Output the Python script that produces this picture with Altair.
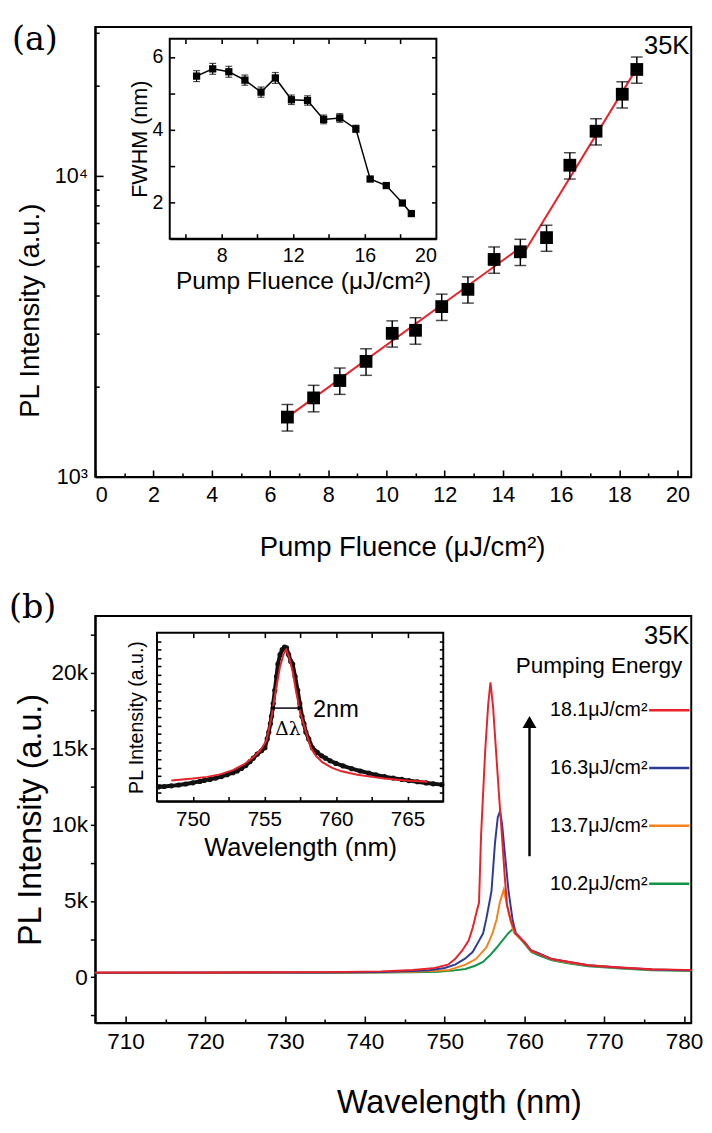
import altair as alt
import pandas as pd

FONT = "Liberation Sans"
SERIF = "DejaVu Serif"

# ---------------- Panel (a): PL intensity vs pump fluence ----------------
fluence = [6.6, 7.5, 8.4, 9.3, 10.2, 11.0, 11.9, 12.8, 13.7, 14.6, 15.5, 16.3, 17.2, 18.1, 18.6]
pl_intensity = [1580, 1830, 2090, 2420, 3000, 3070, 3680, 4200, 5280, 5600, 6240, 10860, 14090, 18700, 22600]
pl_error = [160, 185, 210, 245, 300, 310, 370, 420, 530, 560, 620, 1090, 1410, 1870, 2260]
fit_low_x = [6.6, 14.6]
fit_low_y = [1580, 5780]
fit_high_x = [14.6, 18.55]
fit_high_y = [5310, 22400]

# inset (a): FWHM vs pump fluence
fwhm = [5.47, 5.67, 5.59, 5.36, 5.03, 5.42, 4.82, 4.80, 4.28, 4.32, 4.02, 2.64, 2.46, 1.98, 1.69]
fwhm_error = [0.15, 0.15, 0.15, 0.14, 0.14, 0.15, 0.13, 0.13, 0.12, 0.12, 0.10, 0.05, 0.04, 0.04, 0.04]
inset_a_xdomain = [5.1, 20]
inset_a_ydomain = [1.0, 6.5]

# ---------------- Panel (b): spectra ----------------
red_wl = [705.5, 720, 735, 742, 746, 748.5, 750.4, 751.3, 752.2, 753.0, 753.5, 754.0, 754.3, 754.56,
          755.08, 755.45, 755.73, 756.05, 756.42, 756.8, 757.16, 757.5, 757.81, 758.3, 758.9, 760.0,
          760.84, 761.7, 763.44, 765.6, 768, 772.1, 776, 780, 784.5]
red_int = [300, 310, 330, 380, 470, 580, 820, 1190, 1750, 2400, 3230, 4300, 4900, 9360,
           14930, 17900, 19350, 17800, 14930, 12000, 9360, 6800, 4720, 3700, 2860, 2300,
           1750, 1550, 1190, 1000, 780, 630, 520, 480, 450]

blue_wl = [705.5, 720, 735, 742, 746, 748, 750, 751.3, 752.5, 753.5, 754.2, 754.8, 755.2, 755.6,
           755.86, 756.3, 756.65, 756.94, 757.2, 757.45, 758.0, 758.5, 758.9, 760.0, 760.84, 761.7,
           763.44, 765.6, 768, 772.1, 776, 780, 784.5]
blue_int = [290, 300, 310, 340, 400, 450, 600, 820, 1200, 1650, 2300, 2860, 3790, 4900,
            5640, 8800, 10500, 10900, 10000, 8600, 5640, 3790, 2900, 2300, 1750, 1600,
            1190, 1000, 780, 620, 500, 460, 440]

orange_wl = [705.5, 720, 735, 742, 746, 748, 750.4, 752.6, 753.9, 755.2, 755.6, 756.0, 756.5, 756.9,
             757.2, 757.4, 757.7, 758.2, 758.7, 760.0, 760.84, 761.7, 763.44, 765.6, 768, 772.1,
             776, 780, 784.5]
orange_int = [280, 290, 300, 320, 360, 400, 450, 820, 1190, 1930, 2400, 2900, 3790, 4900,
              5400, 5740, 5000, 3790, 2900, 2250, 1700, 1550, 1150, 950, 760, 600,
              490, 450, 430]

green_wl = [705.5, 720, 735, 742, 746, 749.2, 751, 752.6, 753.8, 754.8, 755.7, 756.5, 757.3, 758.0,
            758.5, 759.0, 760.0, 760.84, 761.7, 763.44, 765.6, 768, 772.1, 776, 780, 784.5]
green_int = [270, 280, 290, 300, 320, 350, 430, 540, 750, 1000, 1450, 1930, 2450, 2900,
             3150, 2800, 2200, 1650, 1450, 1100, 900, 720, 560, 460, 420, 400]

legend_labels = ["18.1\u03bcJ/cm\u00b2", "16.3\u03bcJ/cm\u00b2", "13.7\u03bcJ/cm\u00b2", "10.2\u03bcJ/cm\u00b2"]
legend_colors = ["#e8222a", "#2a3b98", "#f5821f", "#12934a"]

# inset (b): measured spectrum (dots) and Lorentzian fit (red), normalised units
dots_wl = [747.6, 748.0, 748.5, 749.0, 749.5, 750.0, 750.5, 750.8, 751.2, 751.6, 752.0, 752.4, 752.8,
           753.1, 753.4, 753.7, 754.0, 754.23, 754.5, 754.8, 755.04, 755.2, 755.31, 755.42, 755.5,
           755.62, 755.73, 755.85, 755.95, 756.1, 756.25, 756.41, 756.55, 756.7, 756.85, 756.98,
           757.15, 757.33, 757.48, 757.63, 757.77, 757.9, 758.1, 758.36, 758.7, 759.0, 759.28, 759.6,
           760.0, 760.5, 761.1, 761.7, 762.3, 762.8, 763.4, 764.0, 764.6, 765.1, 765.7, 766.3,
           766.8, 767.4]
dots_int = [0.085, 0.088, 0.092, 0.097, 0.103, 0.110, 0.118, 0.124, 0.130, 0.138, 0.147, 0.158, 0.170,
            0.180, 0.195, 0.212, 0.235, 0.256, 0.280, 0.300, 0.318, 0.370, 0.411, 0.460, 0.504,
            0.580, 0.659, 0.740, 0.814, 0.870, 0.900, 0.915, 0.910, 0.870, 0.830, 0.814,
            0.740, 0.659, 0.580, 0.504, 0.460, 0.411, 0.370, 0.318, 0.290, 0.270, 0.256, 0.240,
            0.225, 0.210, 0.194, 0.180, 0.167, 0.157, 0.147, 0.138, 0.130, 0.123, 0.116, 0.109,
            0.104, 0.099]
fit_wl = [748.5, 750.0, 751.0, 751.9, 752.8, 753.6, 754.2, 754.7, 755.15, 755.5, 755.8, 756.1, 756.35,
          756.53, 756.75, 757.0, 757.2, 757.5, 757.8, 758.25, 758.6, 759.05, 759.7, 760.4, 761.5,
          762.5, 763.4, 764.5, 765.5, 766.4]
fit_int = [0.124, 0.135, 0.145, 0.160, 0.185, 0.220, 0.260, 0.300, 0.360, 0.500, 0.659, 0.800, 0.875,
           0.899, 0.850, 0.760, 0.659, 0.530, 0.442, 0.318, 0.270, 0.232, 0.200, 0.178, 0.158,
           0.145, 0.135, 0.127, 0.120, 0.116]
fwhm_arrow_wl = [755.56, 757.49]
fwhm_arrow_level = 0.553
inset_b_xdomain = [747.5, 767.5]
inset_b_ydomain = [0.0, 1.0]

# tick positions
a_major_x = list(range(0, 21, 2))
a_minor_x = list(range(1, 21, 2))
a_major_y = [1000, 10000]
a_minor_y = [2000, 3000, 4000, 5000, 6000, 7000, 8000, 9000, 20000, 30000]
ia_x_ticks = [6, 8, 10, 12, 14, 16, 18]
ia_y_ticks = [2, 3, 4, 5, 6]
b_major_x = list(range(710, 781, 10))
b_minor_x = list(range(715, 781, 10))
ib_x_ticks = [750, 752.5, 755, 757.5, 760, 762.5, 765]
ib_y_ticks = [round(0.05 * k, 2) for k in range(1, 20)]

# ---------------- layout constants ----------------
W = 608
HA = 459
HB = 415
INA_X = [76, 348]
INA_Y = [216, 12]
INB_X = [63, 355]
INB_Y = [189, 17]
A_XDOM = [0, 20.47]
A_YDOM = [1000, 31300]
B_XDOM = [706.2, 780.9]
B_YDOM = [-3000, 23700]


def txt(s, x, y, size, align="left", font=FONT, baseline="middle"):
    return alt.Chart(pd.DataFrame({"t": [s]})).mark_text(
        align=align, baseline=baseline, font=font, fontSize=size, color="black"
    ).encode(text="t:N", x=alt.value(x), y=alt.value(y))


def tick_axis(orient, offset, values, size):
    return alt.Axis(orient=orient, offset=offset, values=values, tickSize=size, labels=False,
                    domain=False, title="", tickColor="black", tickWidth=1.6, zindex=2)


def tick_layer(xdom, ydom, xaxis, yaxis, xrange=None, yrange=None, ylog=False):
    xs = dict(domain=xdom, nice=False, zero=False)
    ys = dict(domain=ydom, nice=False)
    if xrange:
        xs["range"] = xrange
    if yrange:
        ys["range"] = yrange
    if ylog:
        ys["type"] = "log"
    else:
        ys["zero"] = False
    df = pd.DataFrame({"tx": [xdom[0]], "ty": [ydom[0]]})
    return alt.Chart(df).mark_point(opacity=0).encode(
        x=alt.X("tx:Q", scale=alt.Scale(**xs), axis=xaxis),
        y=alt.Y("ty:Q", scale=alt.Scale(**ys), axis=yaxis),
    )


# ======================= Panel (a) =======================
df_a = pd.DataFrame({"f": fluence, "pl": pl_intensity, "err": pl_error})
df_a["lo"] = df_a["pl"] - df_a["err"]
df_a["hi"] = df_a["pl"] + df_a["err"]

xa = alt.X("f:Q", scale=alt.Scale(domain=A_XDOM, nice=False, zero=False),
           axis=alt.Axis(values=list(range(0, 21, 2)), tickSize=0, labelPadding=8, labelFontSize=22,
                         title="Pump Fluence (\u03bcJ/cm\u00b2)", titleFontSize=28,
                         titleX=313, titleY=72, titleBaseline="middle", titleAlign="center"))
ya_axis = alt.Axis(values=[1000, 10000], tickSize=0, labelPadding=8,
                   labelExpr="datum.value == 1000 ? '10\u00b3' : '10\u2074'",
                   labelFontSize=22,
                   title="PL Intensity (a.u.)", titleFontSize=28,
                   titleX=-66, titleY=289, titleBaseline="middle", titleAlign="center")
ya_scale = alt.Scale(type="log", domain=A_YDOM, nice=False)

base_a = alt.Chart(df_a)
fit_a1 = alt.Chart(pd.DataFrame({"f": fit_low_x, "pl": fit_low_y})).mark_line(
    color="#e8222a", strokeWidth=2).encode(x=xa, y=alt.Y("pl:Q", scale=ya_scale, axis=ya_axis))
fit_a2 = alt.Chart(pd.DataFrame({"f": fit_high_x, "pl": fit_high_y})).mark_line(
    color="#e8222a", strokeWidth=2).encode(x="f:Q", y="pl:Q")
err_a = base_a.mark_rule(color="black", strokeWidth=1.5).encode(x="f:Q", y="lo:Q", y2="hi:Q")
cap_lo = base_a.mark_tick(orient="horizontal", size=12, thickness=1.5, color="black").encode(x="f:Q", y="lo:Q")
cap_hi = base_a.mark_tick(orient="horizontal", size=12, thickness=1.5, color="black").encode(x="f:Q", y="hi:Q")
sq_a = base_a.mark_square(size=170, color="black", opacity=1).encode(x="f:Q", y="pl:Q")

main_a = alt.layer(
    fit_a1, fit_a2, err_a, cap_lo, cap_hi, sq_a,
    txt("35K", 606, 20, 26, align="right"),
    txt("(a)", -85, 14, 34, font=SERIF),
)

# inset (a)
df_ia = pd.DataFrame({"f": fluence, "w": fwhm, "e": fwhm_error})
df_ia["lo"] = df_ia["w"] - df_ia["e"]
df_ia["hi"] = df_ia["w"] + df_ia["e"]
frame_ia = pd.DataFrame({"x0": [inset_a_xdomain[0]], "x1": [inset_a_xdomain[1]],
                         "y0": [inset_a_ydomain[0]], "y1": [inset_a_ydomain[1]]})
xia = alt.X("x0:Q", scale=alt.Scale(domain=inset_a_xdomain, range=INA_X, nice=False, zero=False),
            axis=alt.Axis(orient="bottom", offset=-(HA - INA_Y[0]), values=[8, 12, 16, 20],
                          title="Pump Fluence (\u03bcJ/cm\u00b2)", labelFontSize=20, titleFontSize=25,
                          titlePadding=4, tickSize=0, labelPadding=7))
yia = alt.Y("y0:Q", scale=alt.Scale(domain=inset_a_ydomain, range=INA_Y, nice=False, zero=False),
            axis=alt.Axis(orient="left", offset=-INA_X[0], values=[2, 4, 6], format="d",
                          title="FWHM (nm)", labelFontSize=20, titleFontSize=22, tickSize=0, labelPadding=7,
                          titleX=-31, titleBaseline="middle", titleAlign="center"))
rect_ia = alt.Chart(frame_ia).mark_rect(fill="white", stroke="black", strokeWidth=2).encode(
    x=xia, x2="x1:Q", y=yia, y2="y1:Q")
base_ia = alt.Chart(df_ia)
line_ia = base_ia.mark_line(color="black", strokeWidth=1.5).encode(x="f:Q", y="w:Q")
err_ia = base_ia.mark_rule(color="black", strokeWidth=1.2).encode(x="f:Q", y="lo:Q", y2="hi:Q")
caplo_ia = base_ia.mark_tick(orient="horizontal", size=7, thickness=1.2, color="black").encode(x="f:Q", y="lo:Q")
caphi_ia = base_ia.mark_tick(orient="horizontal", size=7, thickness=1.2, color="black").encode(x="f:Q", y="hi:Q")
sq_ia = base_ia.mark_square(size=55, color="black", opacity=1).encode(x="f:Q", y="w:Q")
inset_a = alt.layer(rect_ia, line_ia, err_ia, caplo_ia, caphi_ia, sq_ia)

ticks_a = [
    tick_layer(A_XDOM, A_YDOM, tick_axis("bottom", -7, a_major_x, 7), tick_axis("left", -8, a_major_y, 8), ylog=True),
    tick_layer(A_XDOM, A_YDOM, tick_axis("bottom", -4, a_minor_x, 4), tick_axis("left", -4, a_minor_y, 4), ylog=True),
    tick_layer(inset_a_xdomain, inset_a_ydomain,
               tick_axis("bottom", INA_Y[0] - 5 - HA, ia_x_ticks, 5), tick_axis("left", -(INA_X[0] + 5), ia_y_ticks, 5),
               xrange=INA_X, yrange=INA_Y),
    tick_layer(inset_a_xdomain, inset_a_ydomain,
               tick_axis("top", -(INA_Y[1] + 5), ia_x_ticks, 5), tick_axis("right", INA_X[1] - 5 - W, ia_y_ticks, 5),
               xrange=INA_X, yrange=INA_Y),
]

panel_a = alt.layer(main_a, inset_a, *ticks_a).resolve_scale(x="independent", y="independent").properties(
    width=W, height=HA)

# ======================= Panel (b) =======================
xb = alt.X("wl:Q", scale=alt.Scale(domain=B_XDOM, nice=False, zero=False),
           axis=alt.Axis(values=b_major_x, tickSize=0, labelPadding=8, labelFontSize=23,
                         title="Wavelength (nm)", titleFontSize=33,
                         titleX=371, titleY=81, titleBaseline="middle", titleAlign="center"))
yb = alt.Y("I:Q", scale=alt.Scale(domain=B_YDOM, nice=False, zero=False),
           axis=alt.Axis(values=list(range(-2500, 22501, 2500)),
                         labelExpr="datum.value % 5000 == 0 ? (datum.value == 0 ? '0' : (datum.value / 1000) + 'k') : ''",
                         labelFontSize=23,
                         title="PL Intensity (a.u.)", titleFontSize=33,
                         titleX=-66, titleBaseline="middle", titleAlign="center"))

series = [
    (green_wl, green_int, legend_colors[3]),
    (orange_wl, orange_int, legend_colors[2]),
    (blue_wl, blue_int, legend_colors[1]),
    (red_wl, red_int, legend_colors[0]),
]
spec_layers = []
for i, (wl, inten, col) in enumerate(series):
    enc = {"x": xb, "y": yb} if i == 0 else {"x": "wl:Q", "y": "I:Q"}
    spec_layers.append(alt.Chart(pd.DataFrame({"wl": wl, "I": inten})).mark_line(
        color=col, strokeWidth=2, clip=True).encode(**enc))

leg_layers = [txt("Pumping Energy", 429, 51, 23), txt("35K", 606, 20, 26, align="right"),
              txt("(b)", -88, -8, 34, font=SERIF)]
leg_y = [96, 155, 214, 273]
for lab, col, yy in zip(legend_labels, legend_colors, leg_y):
    leg_layers.append(txt(lab, 464, yy, 20))
    leg_layers.append(alt.Chart(pd.DataFrame({"t": [lab]})).mark_rule(color=col, strokeWidth=2.5).encode(
        x=alt.value(565), x2=alt.value(606), y=alt.value(yy)))
leg_layers.append(alt.Chart(pd.DataFrame({"t": ["arrow"]})).mark_rule(color="black", strokeWidth=2.5).encode(
    x=alt.value(443), y=alt.value(110), y2=alt.value(245)))
leg_layers.append(alt.Chart(pd.DataFrame({"t": ["arrow"]})).mark_point(
    shape="triangle-up", size=200, filled=True, color="black", opacity=1).encode(
    x=alt.value(443), y=alt.value(108)))

main_b = alt.layer(*spec_layers, *leg_layers)

# inset (b)
frame_ib = pd.DataFrame({"x0": [inset_b_xdomain[0]], "x1": [inset_b_xdomain[1]],
                         "y0": [inset_b_ydomain[0]], "y1": [inset_b_ydomain[1]]})
xib = alt.X("x0:Q", scale=alt.Scale(domain=inset_b_xdomain, range=INB_X, nice=False, zero=False),
            axis=alt.Axis(orient="bottom", offset=-(HB - INB_Y[0]), values=[750, 755, 760, 765],
                          title="Wavelength (nm)", labelFontSize=21, titleFontSize=26,
                          titlePadding=5, tickSize=0, labelPadding=8))
yib = alt.Y("y0:Q", scale=alt.Scale(domain=inset_b_ydomain, range=INB_Y, nice=False, zero=False),
            axis=alt.Axis(orient="left", offset=-INB_X[0], values=[0.5],
                          labels=False, title="PL Intensity (a.u.)", titleFontSize=20,
                          titlePadding=10, tickSize=0))
rect_ib = alt.Chart(frame_ib).mark_rect(fill="white", stroke="black", strokeWidth=2).encode(
    x=xib, x2="x1:Q", y=yib, y2="y1:Q")
df_dots = pd.DataFrame({"x0": dots_wl, "y0": dots_int})
dots_line = alt.Chart(df_dots).mark_line(color="#111111", strokeWidth=4).encode(x="x0:Q", y="y0:Q")
dots = alt.Chart(df_dots).mark_circle(size=28, color="#111111", opacity=1).encode(x="x0:Q", y="y0:Q")
fit_b = alt.Chart(pd.DataFrame({"x0": fit_wl, "y0": fit_int})).mark_line(
    color="#e8222a", strokeWidth=2).encode(x="x0:Q", y="y0:Q")
df_arr = pd.DataFrame({"x0": [fwhm_arrow_wl[0]], "x1": [fwhm_arrow_wl[1]], "y0": [fwhm_arrow_level]})
arr_rule = alt.Chart(df_arr).mark_rule(color="black", strokeWidth=1.5).encode(x="x0:Q", x2="x1:Q", y="y0:Q")
df_tips = pd.DataFrame({"x0": fwhm_arrow_wl, "y0": [fwhm_arrow_level] * 2, "s": ["triangle-left", "triangle-right"]})
arr_tips = alt.Chart(df_tips).mark_point(size=30, filled=True, color="black", opacity=1).encode(
    x="x0:Q", y="y0:Q", shape=alt.Shape("s:N", scale=None))
dl = alt.Chart(pd.DataFrame({"t": ["\u0394\u03bb"], "x0": [756.64], "y0": [0.43]})).mark_text(
    font=SERIF, fontSize=19, color="black").encode(text="t:N", x="x0:Q", y="y0:Q")
two_nm = alt.Chart(pd.DataFrame({"t": ["2nm"], "x0": [758.4], "y0": [0.54]})).mark_text(
    font=FONT, fontSize=24, color="black", align="left").encode(text="t:N", x="x0:Q", y="y0:Q")
inset_b = alt.layer(rect_ib, dots_line, dots, fit_b, arr_rule, arr_tips, dl, two_nm)

ticks_b = [
    tick_layer(B_XDOM, B_YDOM, tick_axis("bottom", -7, b_major_x, 7), None),
    tick_layer(B_XDOM, B_YDOM, tick_axis("bottom", -4, b_minor_x, 4), None),
    tick_layer(inset_b_xdomain, inset_b_ydomain,
               tick_axis("bottom", INB_Y[0] - 5 - HB, ib_x_ticks, 5), tick_axis("left", -(INB_X[0] + 4), ib_y_ticks, 4),
               xrange=INB_X, yrange=INB_Y),
    tick_layer(inset_b_xdomain, inset_b_ydomain,
               tick_axis("top", -(INB_Y[1] + 5), ib_x_ticks, 5), tick_axis("right", INB_X[1] - 4 - W, ib_y_ticks, 4),
               xrange=INB_X, yrange=INB_Y),
]

panel_b = alt.layer(main_b, inset_b, *ticks_b).resolve_scale(x="independent", y="independent").properties(
    width=W, height=HB)

chart = alt.vconcat(panel_a, panel_b, spacing=142, bounds="flush").properties(
    padding={"left": 0, "top": 4, "right": 0, "bottom": 0}
).configure_view(stroke="black", strokeWidth=2).configure_axis(
    labelFont=FONT, labelFontSize=22, titleFont=FONT, titleFontSize=26, titleFontWeight="normal",
    labelColor="black", titleColor="black", domainColor="black", domainWidth=2, tickColor="black",
    tickWidth=1.5, tickSize=5, grid=False, labelPadding=3
)

chart.save("out.html", embed_options={"renderer": "svg", "actions": False})
